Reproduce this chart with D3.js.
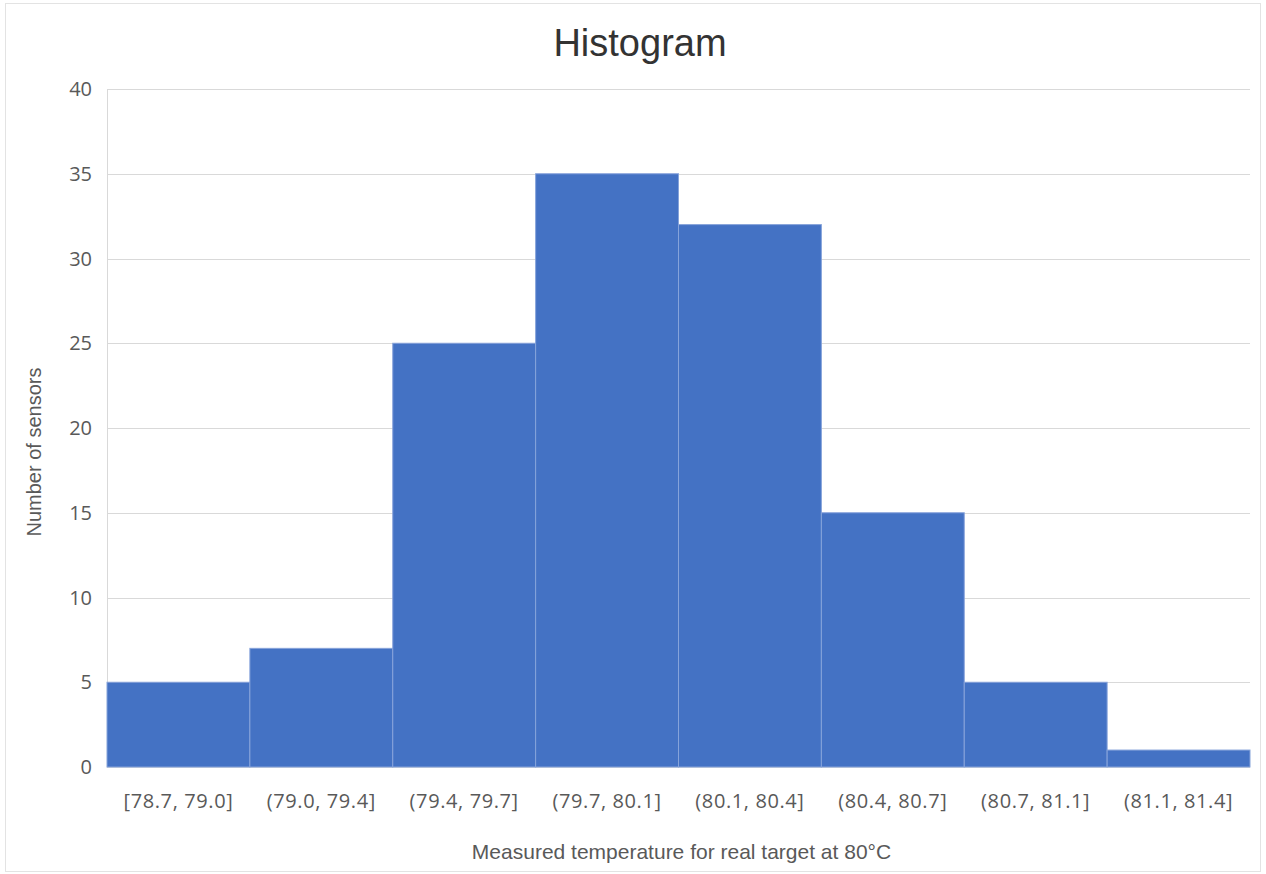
<!DOCTYPE html>
<html>
<head>
<meta charset="utf-8">
<script src="https://cdn.jsdelivr.net/npm/d3@7"></script>
<style>
  body { margin: 0; background: #fff; }
  svg { display: block; }
</style>
</head>
<body>
<div id="chart"></div>
<script>
// bins and counts
const bins = ['[78.7, 79.0]', '(79.0, 79.4]', '(79.4, 79.7]', '(79.7, 80.1]',
              '(80.1, 80.4]', '(80.4, 80.7]', '(80.7, 81.1]', '(81.1, 81.4]']
const counts = [5, 7, 25, 35, 32, 15, 5, 1]
const yTicks = [0, 5, 10, 15, 20, 25, 30, 35, 40]

const width = 1266
const height = 874
const margin = { top: 89, right: 16, bottom: 107, left: 107 }

const svg = d3.select('#chart')
  .append('svg')
  .attr('width', width)
  .attr('height', height)

// outer frame
svg.append('rect')
  .attr('x', 5.5).attr('y', 3.5)
  .attr('width', width - 11).attr('height', height - 6)
  .attr('fill', '#fff')
  .attr('stroke', '#e3e3e3')

const x = d3.scaleBand()
  .domain(bins)
  .range([margin.left, width - margin.right])
  .padding(0)

const y = d3.scaleLinear()
  .domain([0, 40])
  .range([height - margin.bottom, margin.top])

// gridlines
svg.append('g')
  .selectAll('line')
  .data(yTicks)
  .enter().append('line')
    .attr('x1', margin.left)
    .attr('x2', width - margin.right)
    .attr('y1', d => Math.round(y(d)) + 0.5)
    .attr('y2', d => Math.round(y(d)) + 0.5)
    .attr('stroke', '#d9d9d9')

// left axis line
svg.append('line')
  .attr('x1', margin.left + 0.5).attr('x2', margin.left + 0.5)
  .attr('y1', y(40)).attr('y2', y(0))
  .attr('stroke', '#d9d9d9')

// bars
svg.append('g')
  .selectAll('rect')
  .data(counts)
  .enter().append('rect')
    .attr('x', (d, i) => x(bins[i]))
    .attr('y', d => y(d))
    .attr('width', x.bandwidth())
    .attr('height', d => y(0) - y(d))
    .attr('fill', '#4472c4')
    .attr('stroke', '#86a3da')
    .attr('stroke-width', 1)

// y tick labels
svg.append('g')
  .selectAll('text')
  .data(yTicks)
  .enter().append('text')
    .attr('x', margin.left - 15)
    .attr('y', d => y(d))
    .attr('dy', '0.35em')
    .attr('text-anchor', 'end')
    .style('font-family', '"Open Sans", sans-serif')
    .style('font-size', '20px')
    .style('fill', '#595959')
    .text(d => d)

// x tick labels
svg.append('g')
  .selectAll('text')
  .data(bins)
  .enter().append('text')
    .attr('x', d => x(d) + x.bandwidth() / 2)
    .attr('y', y(0) + 34)
    .attr('dy', '0.35em')
    .attr('text-anchor', 'middle')
    .style('font-family', '"Open Sans", sans-serif')
    .style('font-size', '20px')
    .style('letter-spacing', '0.6px')
    .style('fill', '#595959')
    .text(d => d)

// title
svg.append('text')
  .attr('x', 640)
  .attr('y', 56)
  .attr('text-anchor', 'middle')
  .style('font-family', '"Liberation Sans", Arial, sans-serif')
  .style('font-size', '38px')
  .style('fill', '#333')
  .text('Histogram')

// axis titles
svg.append('text')
  .attr('x', (margin.left + width - margin.right) / 2 + 3)
  .attr('y', 859)
  .attr('text-anchor', 'middle')
  .style('font-family', '"Liberation Sans", Arial, sans-serif')
  .style('font-size', '21px')
  .style('fill', '#595959')
  .text('Measured temperature for real target at 80°C')

svg.append('text')
  .attr('transform', 'translate(41, 452) rotate(-90)')
  .attr('text-anchor', 'middle')
  .style('font-family', '"Liberation Sans", Arial, sans-serif')
  .style('font-size', '20px')
  .style('fill', '#595959')
  .text('Number of sensors')
</script>
</body>
</html>
